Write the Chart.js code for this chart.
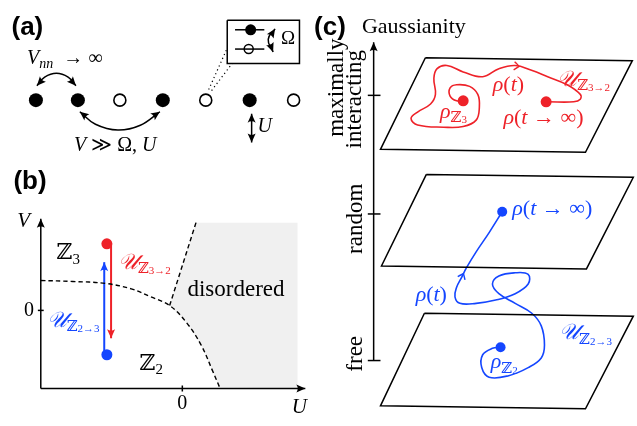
<!DOCTYPE html>
<html><head><meta charset="utf-8">
<script src="https://cdn.jsdelivr.net/npm/chart.js@4"></script>
<style>html,body{margin:0;padding:0;background:#fff;overflow:hidden}</style>
</head><body>
<canvas id="c" width="637" height="426"></canvas>
<script>
// ---------------- data (figure units) ----------------
const atomX = [29, 72, 115, 159, 203, 248, 293];
const atomFilled = [1, 1, 0, 1, 0, 1, 0];
const atomY = [96, 96, 96, 96, 96, 96, 96];

const arcNN = [[30, 81], [38, 72], [50, 68], [62, 72], [70, 81]];
const arcV = [[74, 108], [90, 121], [113, 127], [136, 122], [156, 108]];
const arrowU = [[250, 110], [250, 140]];
const insetBox = [[225, 13], [299, 13], [299, 58], [225, 58], [225, 13]];
const insetUpper = [[233, 23], [263, 23]];
const insetLower = [[233, 43], [263, 43]];
const insetUpperDot = [[249, 23]];
const insetLowerDot = [[247, 43]];
const insetOmega = [[274, 22], [267, 33], [272, 46]];
const dotted1 = [[206, 85], [225, 42]];
const dotted2 = [[209, 86], [230, 58]];

const axisV = [[34, 395], [34, 219]];
const axisU = [[34, 395], [305, 395]];
const tickV0 = [[31, 314], [37, 314]];
const tickU0 = [[179, 392], [179, 398]];
const boundaryZ2Z3 = [[34, 283], [66.7, 284], [100, 286], [126.7, 291.7], [146.7, 300], [166, 309], [183.3, 326.7], [198.3, 350], [210, 376.7], [217.3, 394]];
const boundaryDis = [[166, 309], [193, 223]];
const disorderedRegion = [[193, 223], [297, 223], [297, 395], [217.3, 394], [210, 376.7], [198.3, 350], [183.3, 326.7], [166, 309], [193, 223]];
const quenchRed = [[106, 245], [106, 343]];
const quenchBlue = [[99, 360], [99, 264]];
const startRed = [[101.7, 245]];
const startBlue = [[101.7, 360]];

const axisG = [[375, 366], [375, 36]];
const ticksG = [[[369, 91], [382, 91]], [[369, 214], [382, 214]], [[369, 366], [382, 366]]];
const planeTop = [[428, 52], [640, 55], [592, 150], [382, 147], [428, 52]];
const planeMid = [[429, 173], [641, 176], [593, 271], [383, 268], [429, 173]];
const planeBot = [[427, 317], [641, 320], [592, 416], [382, 413], [427, 317]];

const trajRed = [[466.7, 96.7], [460, 96.7], [453.3, 91.7], [453.3, 83.3], [460, 80], [473.3, 81.7], [481.7, 90], [483.3, 103.3], [480, 116.7], [466.7, 123.3], [446.7, 124], [420, 121.7], [413.3, 115], [420, 108.3], [433.3, 100], [438.3, 90], [436.7, 73.3], [440, 63.3], [450, 60], [466.7, 66.7], [486.7, 71.7], [503.3, 63.3], [520, 60], [536.7, 65], [553.3, 71.7], [573.3, 80], [586.7, 90], [586.7, 95], [580, 97.7], [553.3, 97.7]];
const trajRedDots = [[466.7, 96.7], [551.7, 97.7]];
const trajBlue = [[506.7, 211.7], [493.3, 233.3], [480, 253.3], [470, 270], [465, 280], [460, 290], [458.3, 300], [463.3, 306.7], [480, 306.7], [500, 303.3], [520, 296.7], [533.3, 286.7], [533.3, 276.7], [520, 275], [503.3, 278.3], [496.7, 286.7], [503.3, 296.7], [520, 306.7], [536.7, 316.7], [546.7, 330], [550, 350], [546.7, 363.3], [533.3, 373.3], [513.3, 381.7], [493.3, 383.3], [485.7, 373.3], [486.7, 360], [496.7, 353.3], [505, 352.3]];
const trajBlueDots = [[506.7, 211.7], [505, 352.3]];
const chevrons = [[[516, 60], [524, 61], 'red'], [[462, 287], [467, 276], 'blue']];

const RED = '#ee2229', BLUE = '#1446ff', BLACK = '#000';
const SERIF = '"Liberation Serif","DejaVu Serif",serif';
const SANS = '"Liberation Sans","DejaVu Sans",sans-serif';

// labels: parts [text, kind]
const labels = [
  { x: 4, y: 21, parts: [['(a)', 'B']], size: 26 },
  { x: 6, y: 181, parts: [['(b)', 'B']], size: 26 },
  { x: 314, y: 21, parts: [['(c)', 'B']], size: 26 },
  { x: 20, y: 53, parts: [['V', 'i'], ['nn', 'si'], ['  → ∞', 'r']], size: 20 },
  { x: 68, y: 143, parts: [['V', 'i'], [' ≫ Ω, ', 'r'], ['U', 'i']], size: 20 },
  { x: 256, y: 124, parts: [['U', 'i']], size: 20 },
  { x: 280, y: 33, parts: [['Ω', 'r']], size: 19 },
  { x: 10, y: 222, parts: [['V', 'i']], size: 21 },
  { x: 291, y: 415, parts: [['U', 'i']], size: 21 },
  { x: 22, y: 314, parts: [['0', 'r']], size: 20, align: 'center' },
  { x: 179, y: 411, parts: [['0', 'r']], size: 20, align: 'center' },
  { x: 50, y: 255, parts: [['ℤ', 'r'], ['3', 's']], size: 22 },
  { x: 135, y: 370, parts: [['ℤ', 'r'], ['2', 's']], size: 22 },
  { x: 234, y: 293, parts: [['disordered', 'r']], size: 23, align: 'center' },
  { x: 113, y: 265, parts: [['𝒰', 'S'], ['ℤ', 's'], ['3→2', 'ss']], size: 22, color: RED },
  { x: 40, y: 325, parts: [['𝒰', 'S'], ['ℤ', 's'], ['2→3', 'ss']], size: 22, color: BLUE },
  { x: 363, y: 20, parts: [['Gaussianity', 'r']], size: 22 },
  { x: 337, y: 83, parts: [['maximally', 'r']], size: 23, align: 'center', rot: true },
  { x: 356, y: 95, parts: [['interacting', 'r']], size: 23, align: 'center', rot: true },
  { x: 357, y: 219, parts: [['random', 'r']], size: 23, align: 'center', rot: true },
  { x: 357, y: 359, parts: [['free', 'r']], size: 23, align: 'center', rot: true },
  { x: 497, y: 80, parts: [['ρ', 'i'], ['(', 'r'], ['t', 'i'], [')', 'r']], size: 22, color: RED },
  { x: 563, y: 75, parts: [['𝒰', 'S'], ['ℤ', 's'], ['3→2', 'ss']], size: 22, color: RED },
  { x: 443, y: 108, parts: [['ρ', 'i'], ['ℤ', 's'], ['3', 'ss']], size: 22, color: RED },
  { x: 508, y: 115, parts: [['ρ', 'i'], ['(', 'r'], ['t', 'i'], [' → ∞)', 'r']], size: 22, color: RED },
  { x: 517, y: 209, parts: [['ρ', 'i'], ['(', 'r'], ['t', 'i'], [' → ∞)', 'r']], size: 22, color: BLUE },
  { x: 418, y: 298, parts: [['ρ', 'i'], ['(', 'r'], ['t', 'i'], [')', 'r']], size: 22, color: BLUE },
  { x: 565, y: 338, parts: [['𝒰', 'S'], ['ℤ', 's'], ['2→3', 'ss']], size: 22, color: BLUE },
  { x: 495, y: 368, parts: [['ρ', 'i'], ['ℤ', 's'], ['2', 'ss']], size: 22, color: BLUE }
];

// ---------------- build datasets ----------------
const P = a => a.map(([x, y]) => ({ x, y }));
const ds = [];
function line(pts, o) {
  ds.push(Object.assign({ data: P(pts), showLine: true, pointRadius: 0, pointHoverRadius: 0,
    borderColor: BLACK, borderWidth: 1.5, tension: 0, fill: false, clip: false }, o || {}));
}
function dots(pts, o) {
  ds.push(Object.assign({ data: P(pts), showLine: false, pointRadius: 5, pointHoverRadius: 5,
    pointBackgroundColor: BLACK, pointBorderColor: BLACK, pointBorderWidth: 0, clip: false }, o || {}));
}

// panel (a)
atomX.forEach((x, i) => {
  dots([[x, atomY[i]]], atomFilled[i]
    ? { pointRadius: 7, pointHoverRadius: 7 }
    : { pointRadius: 6, pointHoverRadius: 6, pointBackgroundColor: '#fff', pointBorderWidth: 1.6 });
});
line(arcNN, { tension: 0.4, arrow: { start: true, end: true } });
line(arcV, { tension: 0.4, arrow: { start: true, end: true } });
line(arrowU, { arrow: { start: true, end: true } });
line(insetBox);
line(insetUpper);
line(insetLower);
dots(insetUpperDot, { pointRadius: 5.5 });
dots(insetLowerDot, { pointRadius: 4.5, pointBackgroundColor: '#fff', pointBorderWidth: 1.5 });
line(insetOmega, { tension: 0.5, arrow: { start: true, end: true } });
line(dotted1, { borderDash: [1.2, 3], borderWidth: 1.2 });
line(dotted2, { borderDash: [1.2, 3], borderWidth: 1.2 });

// panel (b)
line(disorderedRegion, { borderWidth: 0, borderColor: 'rgba(0,0,0,0)', backgroundColor: '#f0f0f0', fill: 'shape', order: 10 });
line(axisV, { arrow: { end: true } });
line(axisU, { arrow: { end: true } });
line(tickV0);
line(tickU0);
line(boundaryZ2Z3, { tension: 0.4, borderDash: [4.5, 3], borderWidth: 1.4 });
line(boundaryDis, { borderDash: [4.5, 3], borderWidth: 1.4 });
line(quenchRed, { borderColor: RED, borderWidth: 2, arrow: { end: true } });
line(quenchBlue, { borderColor: BLUE, borderWidth: 2, arrow: { end: true } });
dots(startRed, { pointBackgroundColor: RED, pointBorderColor: RED, pointRadius: 5.5 });
dots(startBlue, { pointBackgroundColor: BLUE, pointBorderColor: BLUE, pointRadius: 5.5 });

// panel (c)
line(axisG, { arrow: { end: true } });
ticksG.forEach(t => line(t));
line(planeTop);
line(planeMid);
line(planeBot);
line(trajRed, { borderColor: RED, borderWidth: 1.6, tension: 0.4 });
line(trajBlue, { borderColor: BLUE, borderWidth: 1.6, tension: 0.4 });
dots(trajRedDots, { pointBackgroundColor: RED, pointBorderColor: RED, pointRadius: 5.5 });
dots(trajBlueDots, { pointBackgroundColor: BLUE, pointBorderColor: BLUE, pointRadius: 5 });

// ---------------- plugins ----------------
function head(ctx, tip, from, color, L, W) {
  const a = Math.atan2(tip.y - from.y, tip.x - from.x);
  ctx.save();
  ctx.translate(tip.x, tip.y);
  ctx.rotate(a);
  ctx.fillStyle = color;
  ctx.beginPath();
  ctx.moveTo(0, 0);
  ctx.lineTo(-L, -W);
  ctx.quadraticCurveTo(-L * 0.7, 0, -L, W);
  ctx.closePath();
  ctx.fill();
  ctx.restore();
}
const arrowPlugin = {
  id: 'arrows',
  afterDatasetsDraw(chart) {
    const ctx = chart.ctx;
    chart.data.datasets.forEach((d, i) => {
      if (!d.arrow) return;
      const pts = chart.getDatasetMeta(i).data;
      const n = pts.length;
      const col = d.borderColor;
      if (d.arrow.end) {
        const p = pts[n - 1];
        let q = { x: p.cp1x, y: p.cp1y };
        if (!isFinite(q.x) || Math.hypot(q.x - p.x, q.y - p.y) < 0.5) q = pts[n - 2];
        head(ctx, p, q, col, 9, 4);
      }
      if (d.arrow.start) {
        const p = pts[0];
        let q = { x: p.cp2x, y: p.cp2y };
        if (!isFinite(q.x) || Math.hypot(q.x - p.x, q.y - p.y) < 0.5) q = pts[1];
        head(ctx, p, q, col, 9, 4);
      }
    });
    // chevrons on trajectories
    const xs = chart.scales.x, ys = chart.scales.y;
    chevrons.forEach(([a, b, c]) => {
      const A = { x: xs.getPixelForValue(a[0]), y: ys.getPixelForValue(a[1]) };
      const B = { x: xs.getPixelForValue(b[0]), y: ys.getPixelForValue(b[1]) };
      const ang = Math.atan2(B.y - A.y, B.x - A.x);
      ctx.save();
      ctx.translate(B.x, B.y);
      ctx.rotate(ang);
      ctx.strokeStyle = c === 'red' ? RED : BLUE;
      ctx.lineWidth = 1.4;
      ctx.beginPath();
      ctx.moveTo(-5, -4);
      ctx.quadraticCurveTo(-1, -1, 0, 0);
      ctx.quadraticCurveTo(-1, 1, -5, 4);
      ctx.stroke();
      ctx.restore();
    });
  }
};

function fontFor(kind, s) {
  switch (kind) {
    case 'B': return { f: `bold ${s}px ${SANS}`, dy: 0 };
    case 'i': return { f: `italic ${s}px ${SERIF}`, dy: 0 };
    case 'S': return { f: `italic ${s}px ${SERIF}`, dy: 0 };
    case 's': return { f: `${Math.round(s * 0.7)}px ${SERIF}`, dy: s * 0.28 };
    case 'si': return { f: `italic ${Math.round(s * 0.7)}px ${SERIF}`, dy: s * 0.28 };
    case 'ss': return { f: `${Math.round(s * 0.52)}px ${SERIF}`, dy: s * 0.38 };
    default: return { f: `${s}px ${SERIF}`, dy: 0 };
  }
}
const textPlugin = {
  id: 'texts',
  afterDraw(chart) {
    const ctx = chart.ctx;
    const xs = chart.scales.x, ys = chart.scales.y;
    labels.forEach(l => {
      const px = xs.getPixelForValue(l.x), py = ys.getPixelForValue(l.y);
      ctx.save();
      ctx.fillStyle = l.color || BLACK;
      ctx.textBaseline = 'middle';
      ctx.textAlign = 'left';
      let w = 0;
      const segs = l.parts.map(([t, k]) => {
        const fk = fontFor(k, l.size);
        ctx.font = fk.f;
        const m = ctx.measureText(t).width;
        w += m;
        return { t, fk, m };
      });
      ctx.translate(px, py);
      if (l.rot) ctx.rotate(-Math.PI / 2);
      let x0 = l.align === 'center' ? -w / 2 : 0;
      segs.forEach(s => {
        ctx.font = s.fk.f;
        ctx.fillText(s.t, x0, s.fk.dy);
        x0 += s.m;
      });
      ctx.restore();
    });
  }
};

new Chart(document.getElementById('c'), {
  type: 'scatter',
  data: { datasets: ds },
  options: {
    responsive: false,
    animation: false,
    events: [],
    layout: { padding: 0 },
    plugins: { legend: { display: false }, tooltip: { enabled: false } },
    scales: {
      x: { type: 'linear', min: 0, max: 637, display: false },
      y: { type: 'linear', min: 0, max: 426, reverse: true, display: false }
    }
  },
  plugins: [arrowPlugin, textPlugin]
});
</script>
</body></html>
